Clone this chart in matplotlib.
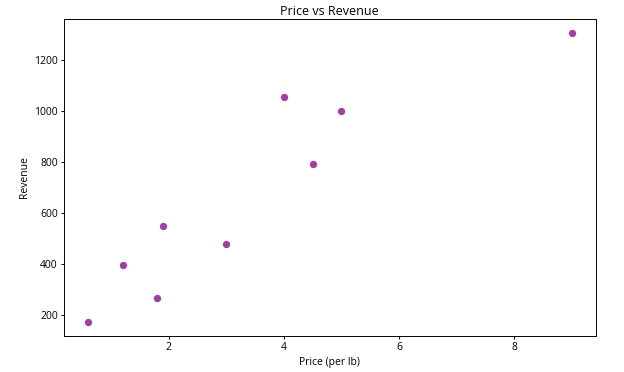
import matplotlib
matplotlib.use("Agg")
import matplotlib.pyplot as plt

price = [0.6, 1.2, 1.8, 1.9, 3.0, 4.0, 4.5, 5.0, 9.0]
revenue = [175, 395, 268, 550, 480, 1055, 790, 998, 1302]

plt.rcParams['font.family'] = ['Open Sans', 'DejaVu Sans']

fig = plt.figure(figsize=(6.24, 3.72), dpi=100)
ax = fig.add_axes([0.1026, 0.0968, 0.852, 0.852])
ax.scatter(price, revenue, color='purple', alpha=0.75, s=28, linewidths=0)
ax.set_title('Price vs Revenue', fontsize=9, pad=3)
ax.set_xlabel('Price (per lb)', fontsize=7.5, labelpad=3)
ax.set_ylabel('Revenue', fontsize=7.5, labelpad=3)
ax.tick_params(labelsize=7.5, length=2.5, width=0.7, pad=2)
for sp in ax.spines.values():
    sp.set_linewidth(0.7)
fig.savefig('out.png', dpi=100)
